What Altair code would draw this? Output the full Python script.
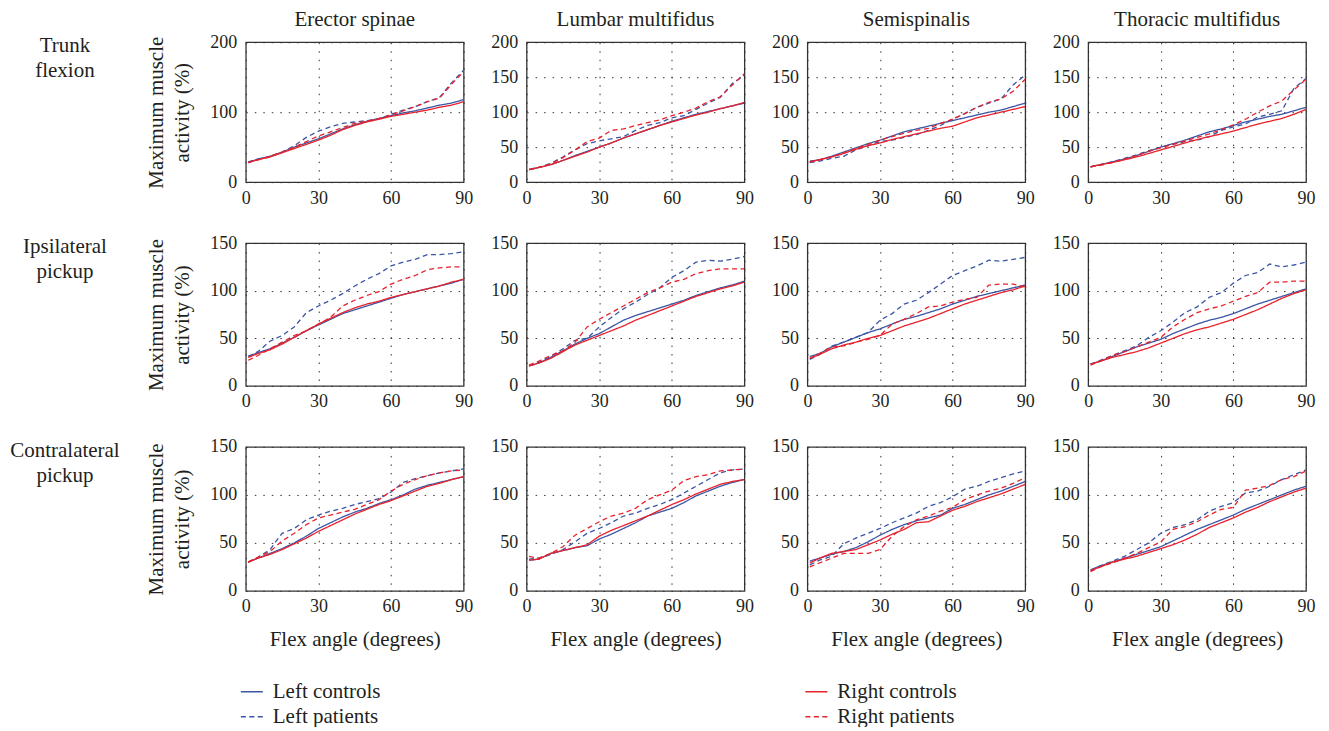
import altair as alt
import pandas as pd

FONT = "Liberation Serif"
TEXT_COLOR = "#231f20"

angles = [1, 5, 10, 15, 20, 25, 30, 35, 40, 45, 50, 55, 60, 65, 70, 75, 80, 85, 90]
tasks = [["Trunk", "flexion"], ["Ipsilateral", "pickup"], ["Contralateral", "pickup"]]
muscles = ["Erector spinae", "Lumbar multifidus", "Semispinalis", "Thoracic multifidus"]
# legend order (column-major): left column then right column
series = ["Left controls", "Left patients", "Right controls", "Right patients"]
series_colors = ["#3a56a5", "#3a56a5", "#e8212b", "#e8212b"]
series_dashes = [[1, 0], [5, 3.5], [1, 0], [5, 3.5]]

# Each panel: [left controls, left patients, right controls, right patients]
trunk_erector = [
    [28, 33, 37, 43, 50, 56, 62, 69, 76, 82, 87, 91, 95, 99, 102, 106, 110, 113, 118],
    [29, 33, 36, 43, 52, 64, 73, 79, 84, 86, 88, 90, 97, 103, 108, 115, 121, 142, 160],
    [28, 32, 36, 42, 48, 54, 60, 67, 75, 81, 86, 90, 94, 97, 100, 103, 107, 110, 115],
    [28, 32, 37, 43, 50, 58, 66, 72, 78, 84, 87, 91, 96, 102, 108, 115, 120, 140, 158],
]
trunk_lumbar = [
    [18, 21, 25, 31, 38, 44, 50, 56, 63, 69, 75, 81, 87, 92, 97, 101, 105, 109, 113],
    [18, 21, 27, 36, 46, 55, 59, 62, 65, 74, 81, 85, 92, 95, 104, 113, 121, 141, 153],
    [18, 21, 25, 31, 37, 43, 50, 56, 63, 69, 75, 81, 86, 91, 96, 100, 105, 109, 114],
    [18, 21, 26, 35, 46, 58, 63, 74, 76, 81, 85, 89, 95, 100, 106, 115, 122, 139, 155],
]
trunk_semi = [
    [30, 32, 37, 43, 49, 55, 60, 66, 72, 76, 80, 84, 88, 92, 96, 100, 103, 108, 113],
    [28, 30, 34, 37, 46, 52, 58, 60, 64, 68, 74, 81, 90, 98, 107, 113, 119, 139, 153],
    [29, 32, 36, 41, 47, 52, 56, 61, 65, 69, 73, 77, 80, 86, 92, 96, 100, 104, 108],
    [29, 32, 36, 42, 48, 54, 60, 65, 70, 74, 77, 84, 90, 98, 107, 114, 119, 130, 147],
]
trunk_thoracic = [
    [22, 25, 29, 33, 38, 44, 50, 55, 60, 66, 72, 76, 81, 86, 90, 94, 97, 102, 107],
    [22, 25, 29, 34, 39, 45, 50, 54, 58, 60, 65, 74, 79, 83, 93, 97, 102, 134, 148],
    [22, 25, 28, 32, 36, 41, 46, 51, 56, 61, 65, 69, 73, 78, 83, 87, 91, 97, 104],
    [22, 24, 28, 33, 38, 44, 49, 54, 59, 64, 69, 75, 82, 90, 100, 109, 116, 132, 147],
]
ipsi_erector = [
    [31, 35, 39, 45, 51, 58, 64, 70, 76, 80, 84, 88, 92, 96, 99, 102, 105, 108, 112],
    [31, 36, 47, 53, 62, 77, 84, 90, 97, 105, 112, 118, 126, 130, 133, 138, 138, 139, 141],
    [30, 34, 38, 44, 51, 58, 65, 71, 77, 82, 86, 89, 93, 96, 99, 102, 105, 109, 112],
    [27, 32, 39, 46, 53, 58, 65, 72, 84, 90, 95, 99, 107, 112, 116, 122, 124, 125, 125],
]
ipsi_lumbar = [
    [21, 24, 30, 37, 44, 50, 55, 62, 69, 74, 78, 82, 86, 90, 95, 99, 103, 106, 110],
    [21, 25, 31, 39, 48, 50, 62, 72, 81, 88, 96, 103, 114, 121, 130, 132, 131, 133, 136],
    [21, 24, 29, 36, 43, 48, 53, 58, 63, 69, 74, 79, 84, 89, 94, 98, 102, 105, 109],
    [22, 26, 32, 37, 46, 62, 70, 77, 84, 91, 98, 103, 109, 112, 118, 121, 123, 123, 123],
]
ipsi_semi = [
    [31, 34, 41, 46, 51, 56, 60, 65, 70, 73, 77, 81, 86, 90, 94, 97, 100, 103, 106],
    [28, 33, 42, 46, 51, 56, 69, 76, 86, 90, 98, 107, 116, 121, 126, 132, 131, 133, 135],
    [29, 33, 39, 43, 46, 50, 53, 58, 63, 67, 71, 76, 81, 86, 90, 94, 98, 101, 105],
    [29, 34, 41, 42, 46, 49, 53, 65, 70, 76, 83, 84, 88, 91, 93, 106, 107, 107, 104],
]
ipsi_thoracic = [
    [23, 26, 31, 36, 41, 45, 49, 55, 60, 65, 69, 72, 76, 81, 86, 90, 94, 98, 102],
    [23, 27, 32, 37, 42, 51, 58, 67, 77, 83, 93, 98, 108, 116, 119, 128, 125, 127, 130],
    [23, 26, 30, 33, 36, 40, 45, 50, 55, 59, 62, 66, 70, 75, 80, 86, 92, 97, 101],
    [22, 26, 32, 36, 41, 46, 51, 62, 70, 77, 81, 84, 89, 94, 98, 109, 109, 110, 110],
]
contra_erector = [
    [30, 34, 39, 44, 50, 57, 65, 71, 77, 82, 86, 91, 95, 100, 106, 110, 113, 116, 119],
    [30, 35, 43, 60, 65, 74, 79, 83, 86, 90, 93, 96, 103, 113, 117, 120, 123, 125, 127],
    [30, 34, 38, 43, 49, 55, 62, 68, 74, 80, 85, 90, 94, 99, 104, 109, 112, 116, 119],
    [30, 35, 41, 52, 60, 69, 76, 79, 82, 85, 90, 95, 104, 111, 116, 120, 123, 125, 126],
]
contra_lumbar = [
    [32, 33, 39, 42, 45, 47, 54, 59, 65, 71, 78, 82, 86, 92, 99, 104, 109, 113, 116],
    [33, 34, 38, 43, 51, 60, 65, 71, 78, 81, 86, 90, 95, 102, 109, 116, 123, 126, 127],
    [32, 33, 39, 42, 45, 48, 57, 63, 68, 73, 78, 84, 90, 95, 101, 106, 111, 114, 116],
    [36, 34, 39, 46, 58, 65, 72, 78, 81, 86, 95, 100, 105, 115, 119, 121, 125, 126, 127],
]
contra_semi = [
    [31, 34, 38, 41, 45, 51, 58, 64, 69, 73, 76, 79, 86, 90, 95, 100, 104, 109, 114],
    [27, 32, 36, 49, 55, 60, 65, 71, 76, 81, 88, 92, 98, 106, 109, 114, 118, 122, 125],
    [29, 34, 39, 41, 43, 48, 53, 59, 64, 71, 72, 78, 84, 88, 93, 97, 101, 106, 111],
    [25, 29, 34, 39, 39, 39, 43, 57, 67, 74, 78, 83, 87, 95, 100, 104, 107, 112, 118],
]
contra_thoracic = [
    [22, 26, 30, 34, 38, 42, 46, 52, 58, 64, 69, 74, 79, 85, 90, 95, 100, 105, 109],
    [21, 26, 31, 36, 43, 50, 60, 66, 69, 74, 83, 88, 92, 102, 104, 109, 116, 121, 126],
    [21, 25, 30, 33, 36, 40, 44, 48, 53, 59, 66, 71, 76, 82, 87, 93, 98, 103, 107],
    [20, 25, 29, 34, 39, 45, 51, 64, 67, 72, 79, 85, 87, 105, 107, 110, 116, 119, 125],
]

panels = [
    [trunk_erector, trunk_lumbar, trunk_semi, trunk_thoracic],
    [ipsi_erector, ipsi_lumbar, ipsi_semi, ipsi_thoracic],
    [contra_erector, contra_lumbar, contra_semi, contra_thoracic],
]

y_max = [200, 150, 150]
row_heights = [140, 143, 144]
PANEL_W = 218
TXT = 21

legend = alt.Legend(
    title=None,
    orient="none",
    legendX=-6,
    legendY=638,
    columns=2,
    columnPadding=422,
    rowPadding=3,
    symbolType="stroke",
    symbolSize=484,
    symbolStrokeWidth=1.4,
    labelFont=FONT,
    labelFontSize=TXT,
    labelColor=TEXT_COLOR,
    labelOffset=9,
    direction="vertical",
)
color_scale = alt.Scale(domain=series, range=series_colors)
dash_scale = alt.Scale(domain=series, range=series_dashes)


def make_panel(ti, mi):
    data = panels[ti][mi]
    rows = []
    for s, vals in zip(series, data):
        for a, v in zip(angles, vals):
            rows.append({"angle": a, "value": v, "series": s})
    df = pd.DataFrame(rows)

    if ti == 0 and mi == 0:
        yvals = [0, 100, 200]
    else:
        yvals = list(range(0, y_max[ti] + 1, 50))

    grid_common = dict(
        grid=True,
        gridDash=[1.5, 7],
        gridColor="#333333",
        gridWidth=1,
        domain=False,
        ticks=False,
        labelFont=FONT,
        labelFontSize=18,
        labelColor=TEXT_COLOR,
        labelFlush=False,
        labelOverlap=False,
        titleFont=FONT,
        titleFontSize=TXT,
        titleFontWeight="normal",
        titleColor=TEXT_COLOR,
    )
    xaxis = alt.Axis(
        values=[0, 30, 60, 90],
        labelPadding=7,
        title="Flex angle (degrees)" if ti == 2 else None,
        titlePadding=13,
        **grid_common,
    )
    yaxis = alt.Axis(
        values=yvals,
        labelPadding=9,
        title=["Maximum muscle", "activity (%)"] if mi == 0 else None,
        titlePadding=17,
        titleLineHeight=26,
        **grid_common,
    )

    lines = (
        alt.Chart(df)
        .mark_line(strokeWidth=1.3, clip=True)
        .encode(
            x=alt.X("angle:Q", scale=alt.Scale(domain=[0, 90], nice=False, zero=False), axis=xaxis),
            y=alt.Y("value:Q", scale=alt.Scale(domain=[0, y_max[ti]], nice=False), axis=yaxis),
            color=alt.Color("series:N", scale=color_scale, legend=legend),
            strokeDash=alt.StrokeDash("series:N", scale=dash_scale, legend=legend),
        )
    )
    layers = [lines]
    if mi == 0:
        label = (
            alt.Chart(alt.Data(values=[{"k": 1}]))
            .mark_text(
                text=tasks[ti],
                font=FONT,
                fontSize=TXT,
                color=TEXT_COLOR,
                align="center",
                baseline="alphabetic",
                lineHeight=25,
            )
            .encode(x=alt.value(-181), y=alt.value(10))
        )
        layers.append(label)
    chart = alt.layer(*layers).properties(width=PANEL_W, height=row_heights[ti])
    if ti == 0:
        chart = chart.properties(
            title=alt.TitleParams(
                text=muscles[mi],
                font=FONT,
                fontSize=TXT,
                fontWeight="normal",
                color=TEXT_COLOR,
                offset=3,
            )
        )
    return chart


cells = [make_panel(ti, mi) for ti in range(3) for mi in range(4)]

chart = (
    alt.concat(
        *cells,
        columns=4,
        spacing={"row": 61, "column": 63},
        bounds="flush",
        align="each",
    )
    .resolve_scale(color="shared", strokeDash="shared")
    .properties(padding={"left": 1, "top": 0, "right": 5, "bottom": 0}, background="white")
    .configure_view(stroke="#333333", strokeWidth=1.3)
)

chart.save("out.html", embed_options={"renderer": "svg", "actions": False})
